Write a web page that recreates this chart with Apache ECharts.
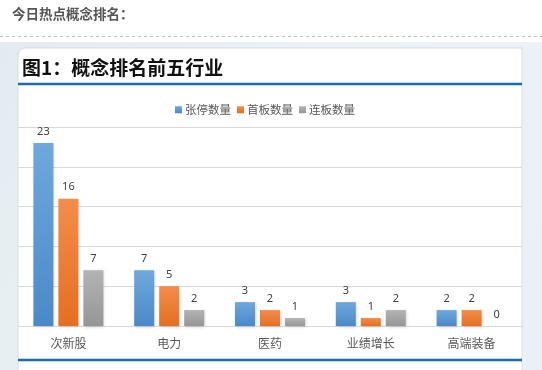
<!DOCTYPE html>
<html>
<head>
<meta charset="utf-8">
<script src="https://cdn.jsdelivr.net/npm/echarts@6/dist/echarts.min.js"></script>
<style>
  html, body { margin: 0; padding: 0; background: #fff; }
  #main { width: 542px; height: 370px; }
</style>
</head>
<body>
<div id="main"></div>
<script>
// 今日热点概念排名
const categories = ['次新股', '电力', '医药', '业绩增长', '高端装备']
const seriesNames = ['张停数量', '首板数量', '连板数量']
const zhangting = [23, 7, 3, 3, 2]
const shouban = [16, 5, 2, 1, 2]
const lianban = [7, 2, 1, 2, 0]
const yTicks = [0, 5, 10, 15, 20, 25]

const colors = [
  ['#6fa8dc', '#4a89c8'],
  ['#f38d4a', '#e56f20'],
  ['#b3b3b3', '#969696']
]

const grad = c => new echarts.graphic.LinearGradient(0, 0, 0, 1, [
  { offset: 0, color: c[0] },
  { offset: 1, color: c[1] }
])

const chart = echarts.init(document.getElementById('main'))

const mkSeries = (name, data, i) => ({
  name: name,
  type: 'bar',
  data: data,
  barWidth: 20,
  barGap: '25%',
  itemStyle: {
    color: grad(colors[i]),
    shadowColor: 'rgba(0,0,0,0.18)',
    shadowBlur: 3,
    shadowOffsetX: 1,
    shadowOffsetY: 1
  },
  label: {
    show: true,
    position: 'top',
    distance: 6,
    fontSize: 11,
    color: '#404040',
    fontFamily: 'Noto Sans'
  }
})

chart.setOption({
  animation: false,
  color: [colors[0][1], colors[1][1], colors[2][1]],
  graphic: [
    {
      type: 'text', left: 12, top: 7,
      style: { text: '今日热点概念排名：', font: 'bold 13.5px "Noto Sans CJK SC"', fill: '#555' }
    },
    {
      type: 'line', shape: { x1: 0, y1: 36.5, x2: 542, y2: 36.5 },
      style: { stroke: '#c0c0c0', lineWidth: 1, lineDash: [3, 3] }
    },
    {
      type: 'rect', shape: { x: 0, y: 42, width: 542, height: 328 }, z: -10,
      style: {
        fill: new echarts.graphic.LinearGradient(0, 0, 1, 1, [
          { offset: 0, color: '#e2ecf0' },
          { offset: 0.5, color: '#edf2f7' },
          { offset: 1, color: '#eaf0f7' }
        ])
      }
    },
    {
      type: 'rect', shape: { x: 18, y: 48, width: 504, height: 330, r: [8, 0, 0, 0] }, z: -9,
      style: { fill: '#fff', stroke: '#d8dde0', lineWidth: 1 }
    },
    {
      type: 'text', left: 22, top: 58,
      style: { text: '图1：概念排名前五行业', font: 'bold 19px "Noto Sans CJK SC"', fill: '#111' }
    },
    {
      type: 'line', shape: { x1: 18, y1: 84, x2: 522, y2: 84 },
      style: { stroke: '#1d6aa8', lineWidth: 2.5 }
    },
    {
      type: 'line', shape: { x1: 18, y1: 360, x2: 522, y2: 360 },
      style: { stroke: '#1d6aa8', lineWidth: 2.5 }
    }
  ],
  legend: {
    top: 99,
    left: 170,
    itemWidth: 7,
    itemHeight: 7,
    itemGap: 6,
    icon: 'rect',
    textStyle: { fontSize: 11.5, color: '#595959', fontFamily: 'Noto Sans CJK SC', padding: [0, 0, 0, -2] },
    data: seriesNames
  },
  grid: { left: 18, right: 20, top: 127, bottom: 44, containLabel: false },
  xAxis: {
    type: 'category',
    data: categories,
    axisLine: { lineStyle: { color: '#d9d9d9' } },
    axisTick: { show: false },
    axisLabel: { fontSize: 12, color: '#595959', margin: 11, fontFamily: 'Noto Sans CJK SC' }
  },
  yAxis: {
    type: 'value',
    min: yTicks[0],
    max: yTicks[yTicks.length - 1],
    interval: yTicks[1] - yTicks[0],
    axisLabel: { show: false },
    axisLine: { show: false },
    axisTick: { show: false },
    splitLine: { lineStyle: { color: '#d9d9d9' } }
  },
  series: [
    mkSeries(seriesNames[0], zhangting, 0),
    mkSeries(seriesNames[1], shouban, 1),
    mkSeries(seriesNames[2], lianban, 2)
  ]
})
</script>
</body>
</html>
